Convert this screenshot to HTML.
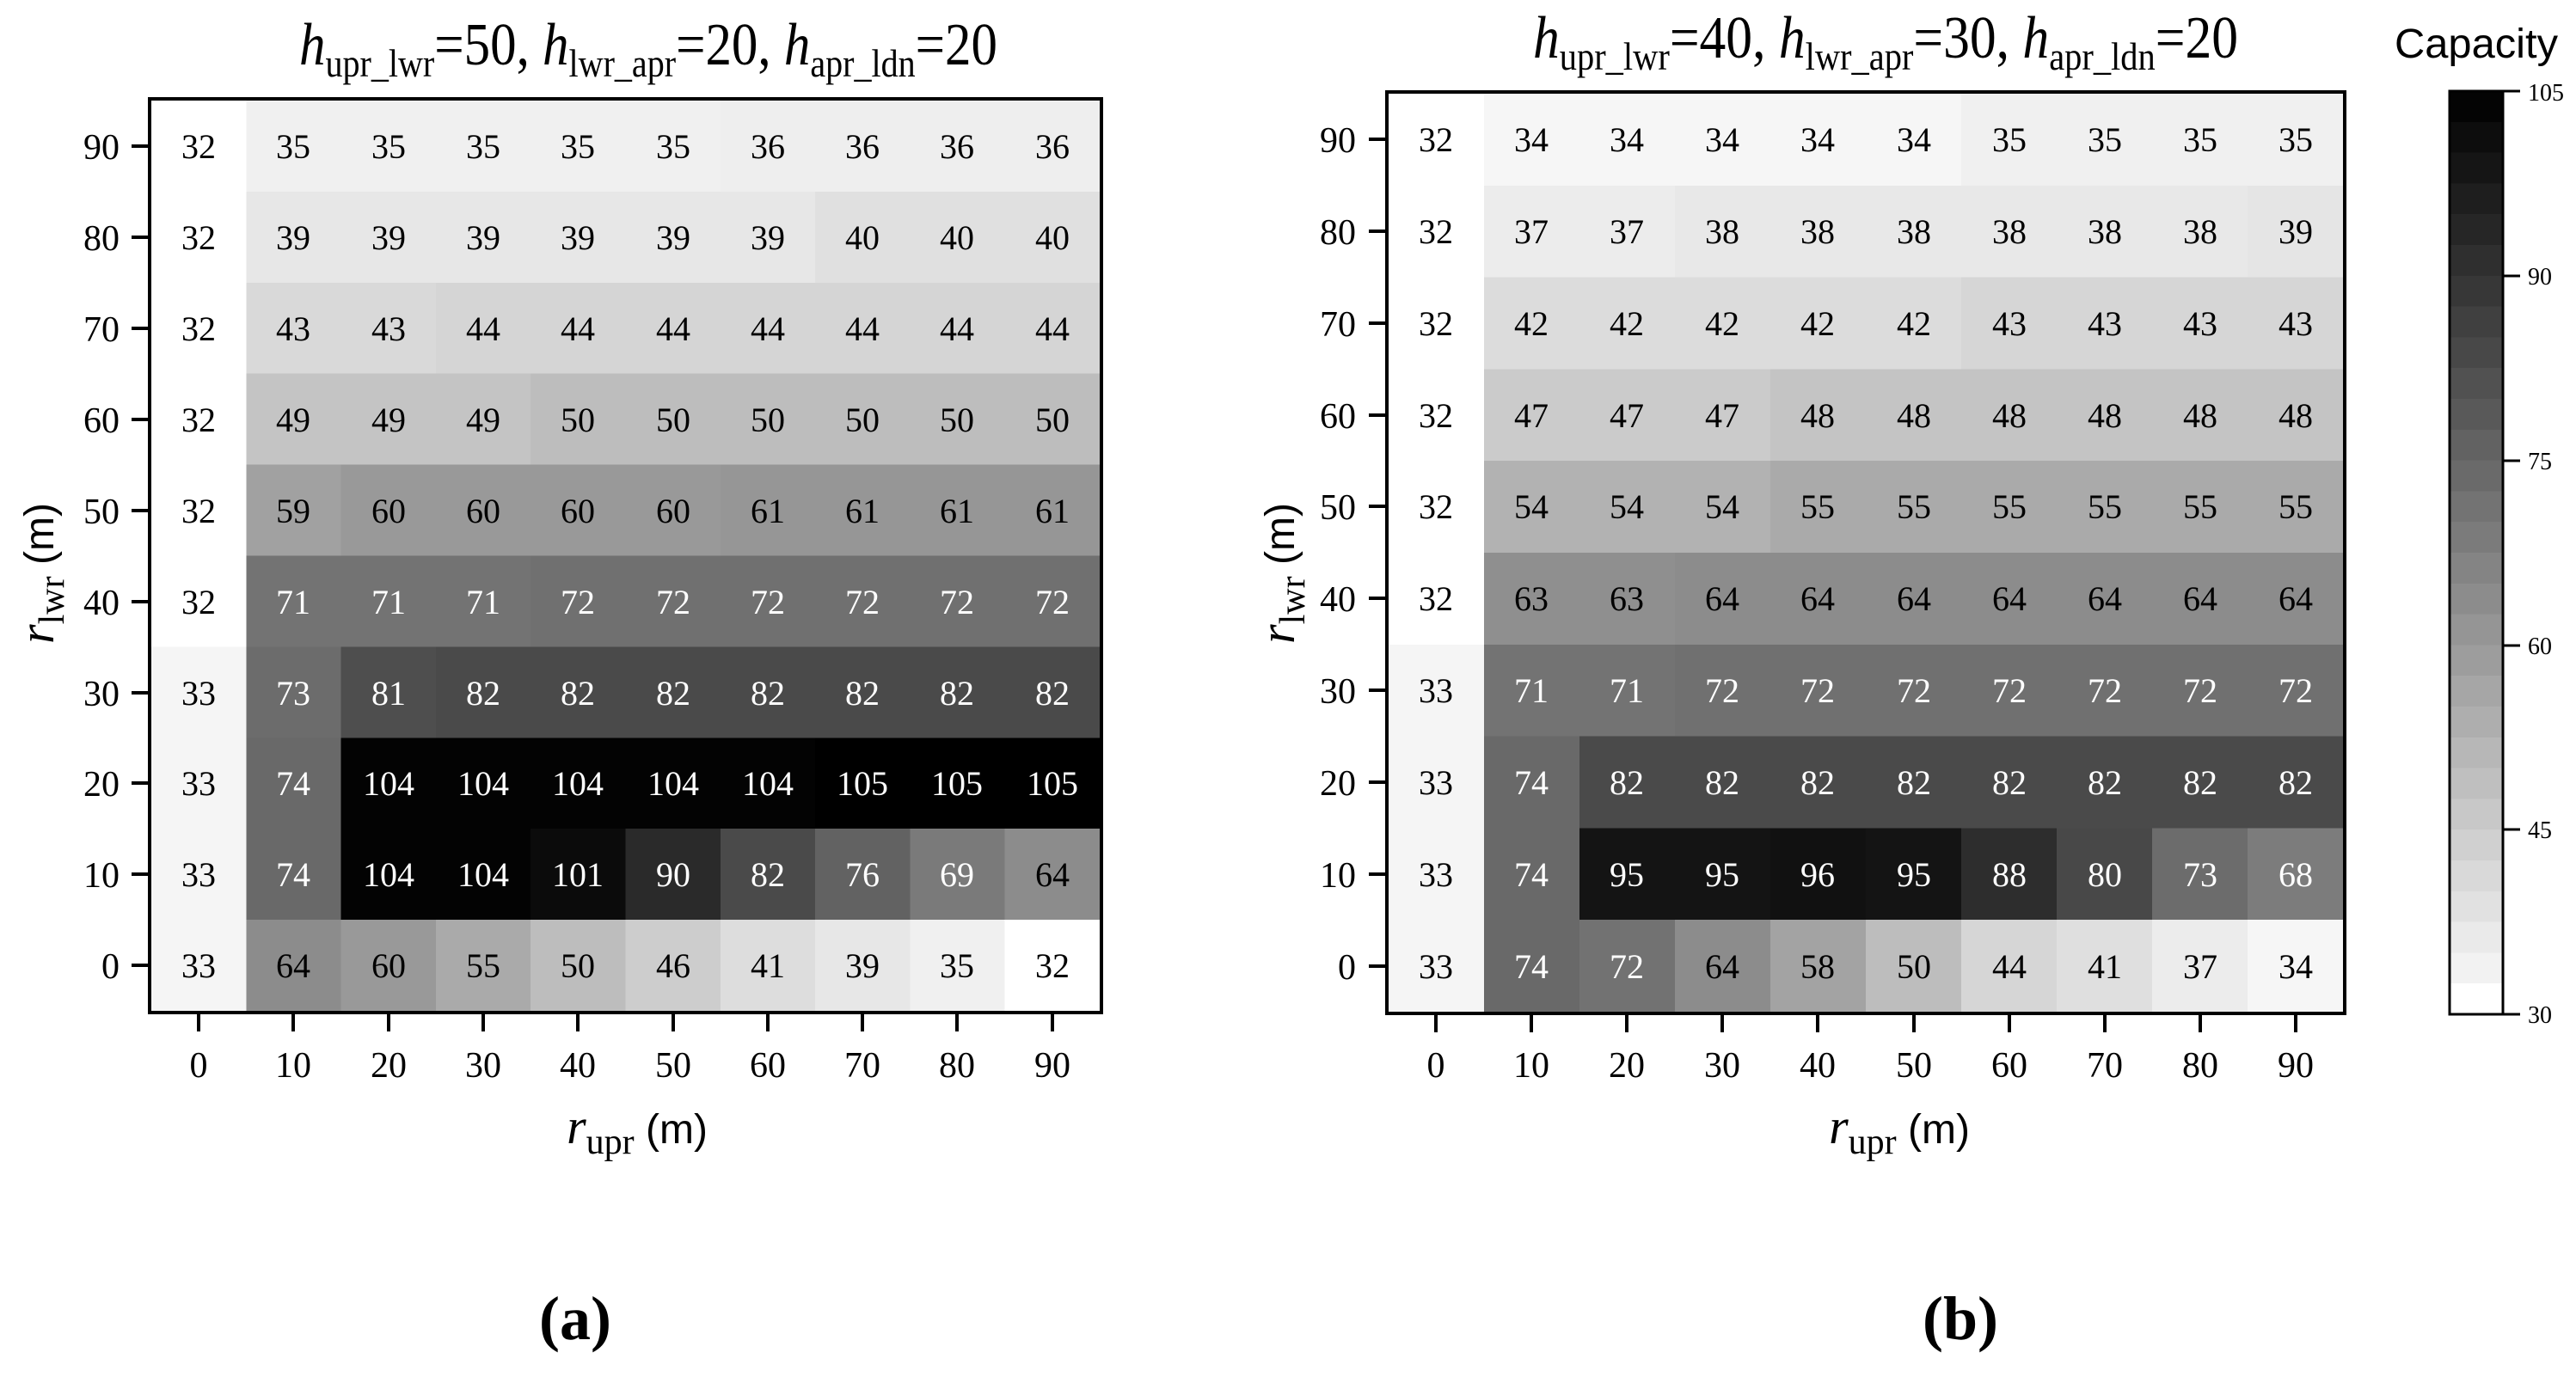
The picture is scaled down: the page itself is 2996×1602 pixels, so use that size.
<!DOCTYPE html>
<html><head><meta charset="utf-8"><style>
html,body{margin:0;padding:0;background:#fff;}
svg{display:block;}
.n{font-family:"Liberation Serif",serif;font-size:40px;text-anchor:middle;}
.t{font-family:"Liberation Serif",serif;font-size:42px;}
.w{fill:#fff;}
</style></head><body>
<svg width="2996" height="1602" viewBox="0 0 2996 1602" xmlns="http://www.w3.org/2000/svg">
<rect width="2996" height="1602" fill="#fff"/>

<!-- LEFT CELLS -->
<g transform="translate(176,117) scale(110.3,105.9)" shape-rendering="crispEdges">
<rect x="0" y="0" width="1.01" height="1.01" fill="#fff"/><rect x="1" y="0" width="5.01" height="1.01" fill="#f0f0f0"/><rect x="6" y="0" width="4" height="1.01" fill="#eeeeee"/>
<rect x="0" y="1" width="1.01" height="1.01" fill="#fff"/><rect x="1" y="1" width="6.01" height="1.01" fill="#e7e7e7"/><rect x="7" y="1" width="3" height="1.01" fill="#e0e0e0"/>
<rect x="0" y="2" width="1.01" height="1.01" fill="#fff"/><rect x="1" y="2" width="2.01" height="1.01" fill="#d9d9d9"/><rect x="3" y="2" width="7" height="1.01" fill="#d5d5d5"/>
<rect x="0" y="3" width="1.01" height="1.01" fill="#fff"/><rect x="1" y="3" width="3.01" height="1.01" fill="#c4c4c4"/><rect x="4" y="3" width="6" height="1.01" fill="#bdbdbd"/>
<rect x="0" y="4" width="1.01" height="1.01" fill="#fff"/><rect x="1" y="4" width="1.01" height="1.01" fill="#a1a1a1"/><rect x="2" y="4" width="4.01" height="1.01" fill="#999999"/><rect x="6" y="4" width="4" height="1.01" fill="#969696"/>
<rect x="0" y="5" width="1.01" height="1.01" fill="#fff"/><rect x="1" y="5" width="3.01" height="1.01" fill="#737373"/><rect x="4" y="5" width="6" height="1.01" fill="#707070"/>
<rect x="0" y="6" width="1.01" height="1.01" fill="#f5f5f5"/><rect x="1" y="6" width="1.01" height="1.01" fill="#6c6c6c"/><rect x="2" y="6" width="1.01" height="1.01" fill="#4e4e4e"/><rect x="3" y="6" width="7" height="1.01" fill="#4a4a4a"/>
<rect x="0" y="7" width="1.01" height="1.01" fill="#f5f5f5"/><rect x="1" y="7" width="1.01" height="1.01" fill="#696969"/><rect x="2" y="7" width="5.01" height="1.01" fill="#030303"/><rect x="7" y="7" width="3" height="1.01" fill="#000"/>
<rect x="0" y="8" width="1.01" height="1.01" fill="#f5f5f5"/><rect x="1" y="8" width="1.01" height="1.01" fill="#696969"/><rect x="2" y="8" width="2.01" height="1.01" fill="#030303"/><rect x="4" y="8" width="1.01" height="1.01" fill="#0b0b0b"/><rect x="5" y="8" width="1.01" height="1.01" fill="#2a2a2a"/><rect x="6" y="8" width="1.01" height="1.01" fill="#4a4a4a"/><rect x="7" y="8" width="1.01" height="1.01" fill="#626262"/><rect x="8" y="8" width="1.01" height="1.01" fill="#7a7a7a"/><rect x="9" y="8" width="1" height="1.01" fill="#8c8c8c"/>
<rect x="0" y="9" width="1.01" height="1" fill="#f5f5f5"/><rect x="1" y="9" width="1.01" height="1" fill="#8c8c8c"/><rect x="2" y="9" width="1.01" height="1" fill="#999999"/><rect x="3" y="9" width="1.01" height="1" fill="#aaaaaa"/><rect x="4" y="9" width="1.01" height="1" fill="#bdbdbd"/><rect x="5" y="9" width="1.01" height="1" fill="#cdcdcd"/><rect x="6" y="9" width="1.01" height="1" fill="#dddddd"/><rect x="7" y="9" width="1.01" height="1" fill="#e7e7e7"/><rect x="8" y="9" width="1.01" height="1" fill="#f0f0f0"/><rect x="9" y="9" width="1" height="1" fill="#fff"/>
</g>
<rect x="174" y="115" width="1107" height="1063" fill="none" stroke="#000" stroke-width="4"/>

<!-- LEFT NUMBERS -->
<g class="n">
<text y="184"><tspan x="231">32</tspan><tspan x="341">35</tspan><tspan x="452">35</tspan><tspan x="562">35</tspan><tspan x="672">35</tspan><tspan x="783">35</tspan><tspan x="893">36</tspan><tspan x="1003">36</tspan><tspan x="1113">36</tspan><tspan x="1224">36</tspan></text>
<text y="290"><tspan x="231">32</tspan><tspan x="341">39</tspan><tspan x="452">39</tspan><tspan x="562">39</tspan><tspan x="672">39</tspan><tspan x="783">39</tspan><tspan x="893">39</tspan><tspan x="1003">40</tspan><tspan x="1113">40</tspan><tspan x="1224">40</tspan></text>
<text y="396"><tspan x="231">32</tspan><tspan x="341">43</tspan><tspan x="452">43</tspan><tspan x="562">44</tspan><tspan x="672">44</tspan><tspan x="783">44</tspan><tspan x="893">44</tspan><tspan x="1003">44</tspan><tspan x="1113">44</tspan><tspan x="1224">44</tspan></text>
<text y="502"><tspan x="231">32</tspan><tspan x="341">49</tspan><tspan x="452">49</tspan><tspan x="562">49</tspan><tspan x="672">50</tspan><tspan x="783">50</tspan><tspan x="893">50</tspan><tspan x="1003">50</tspan><tspan x="1113">50</tspan><tspan x="1224">50</tspan></text>
<text y="608"><tspan x="231">32</tspan><tspan x="341">59</tspan><tspan x="452">60</tspan><tspan x="562">60</tspan><tspan x="672">60</tspan><tspan x="783">60</tspan><tspan x="893">61</tspan><tspan x="1003">61</tspan><tspan x="1113">61</tspan><tspan x="1224">61</tspan></text>
<text y="714"><tspan x="231">32</tspan><tspan class="w" x="341">71</tspan><tspan class="w" x="452">71</tspan><tspan class="w" x="562">71</tspan><tspan class="w" x="672">72</tspan><tspan class="w" x="783">72</tspan><tspan class="w" x="893">72</tspan><tspan class="w" x="1003">72</tspan><tspan class="w" x="1113">72</tspan><tspan class="w" x="1224">72</tspan></text>
<text y="820"><tspan x="231">33</tspan><tspan class="w" x="341">73</tspan><tspan class="w" x="452">81</tspan><tspan class="w" x="562">82</tspan><tspan class="w" x="672">82</tspan><tspan class="w" x="783">82</tspan><tspan class="w" x="893">82</tspan><tspan class="w" x="1003">82</tspan><tspan class="w" x="1113">82</tspan><tspan class="w" x="1224">82</tspan></text>
<text y="925"><tspan x="231">33</tspan><tspan class="w" x="341">74</tspan><tspan class="w" x="452">104</tspan><tspan class="w" x="562">104</tspan><tspan class="w" x="672">104</tspan><tspan class="w" x="783">104</tspan><tspan class="w" x="893">104</tspan><tspan class="w" x="1003">105</tspan><tspan class="w" x="1113">105</tspan><tspan class="w" x="1224">105</tspan></text>
<text y="1031"><tspan x="231">33</tspan><tspan class="w" x="341">74</tspan><tspan class="w" x="452">104</tspan><tspan class="w" x="562">104</tspan><tspan class="w" x="672">101</tspan><tspan class="w" x="783">90</tspan><tspan class="w" x="893">82</tspan><tspan class="w" x="1003">76</tspan><tspan class="w" x="1113">69</tspan><tspan x="1224">64</tspan></text>
<text y="1137"><tspan x="231">33</tspan><tspan x="341">64</tspan><tspan x="452">60</tspan><tspan x="562">55</tspan><tspan x="672">50</tspan><tspan x="783">46</tspan><tspan x="893">41</tspan><tspan x="1003">39</tspan><tspan x="1113">35</tspan><tspan x="1224">32</tspan></text>
</g>

<!-- LEFT TICKS -->
<g stroke="#000" stroke-width="4">
<path d="M153 170H174M153 276H174M153 382H174M153 488H174M153 594H174M153 700H174M153 806H174M153 911H174M153 1017H174M153 1123H174"/>
<path d="M231 1180V1200M341 1180V1200M452 1180V1200M562 1180V1200M672 1180V1200M783 1180V1200M893 1180V1200M1003 1180V1200M1113 1180V1200M1224 1180V1200"/>
</g>
<g class="t" text-anchor="end">
<text x="139" y="185">90</text><text x="139" y="291">80</text><text x="139" y="397">70</text><text x="139" y="503">60</text><text x="139" y="609">50</text><text x="139" y="715">40</text><text x="139" y="821">30</text><text x="139" y="926">20</text><text x="139" y="1032">10</text><text x="139" y="1138">0</text>
</g>
<g class="t" text-anchor="middle">
<text y="1253"><tspan x="231">0</tspan><tspan x="341">10</tspan><tspan x="452">20</tspan><tspan x="562">30</tspan><tspan x="672">40</tspan><tspan x="783">50</tspan><tspan x="893">60</tspan><tspan x="1003">70</tspan><tspan x="1113">80</tspan><tspan x="1224">90</tspan></text>
</g>

<!-- RIGHT CELLS -->
<g transform="translate(1615,109) scale(111,106.8)" shape-rendering="crispEdges">
<rect x="0" y="0" width="1.01" height="1.01" fill="#fff"/><rect x="1" y="0" width="5.01" height="1.01" fill="#f6f6f6"/><rect x="6" y="0" width="4" height="1.01" fill="#f0f0f0"/>
<rect x="0" y="1" width="1.01" height="1.01" fill="#fff"/><rect x="1" y="1" width="2.01" height="1.01" fill="#ececec"/><rect x="3" y="1" width="6.01" height="1.01" fill="#e8e8e8"/><rect x="9" y="1" width="1" height="1.01" fill="#e5e5e5"/>
<rect x="0" y="2" width="1.01" height="1.01" fill="#fff"/><rect x="1" y="2" width="5.01" height="1.01" fill="#dcdcdc"/><rect x="6" y="2" width="4" height="1.01" fill="#d6d6d6"/>
<rect x="0" y="3" width="1.01" height="1.01" fill="#fff"/><rect x="1" y="3" width="3.01" height="1.01" fill="#cbcbcb"/><rect x="4" y="3" width="6" height="1.01" fill="#c4c4c4"/>
<rect x="0" y="4" width="1.01" height="1.01" fill="#fff"/><rect x="1" y="4" width="3.01" height="1.01" fill="#b2b2b2"/><rect x="4" y="4" width="6" height="1.01" fill="#aaaaaa"/>
<rect x="0" y="5" width="1.01" height="1.01" fill="#fff"/><rect x="1" y="5" width="2.01" height="1.01" fill="#8f8f8f"/><rect x="3" y="5" width="7" height="1.01" fill="#8c8c8c"/>
<rect x="0" y="6" width="1.01" height="1.01" fill="#f5f5f5"/><rect x="1" y="6" width="2.01" height="1.01" fill="#737373"/><rect x="3" y="6" width="7" height="1.01" fill="#707070"/>
<rect x="0" y="7" width="1.01" height="1.01" fill="#f5f5f5"/><rect x="1" y="7" width="1.01" height="1.01" fill="#696969"/><rect x="2" y="7" width="8" height="1.01" fill="#4a4a4a"/>
<rect x="0" y="8" width="1.01" height="1.01" fill="#f5f5f5"/><rect x="1" y="8" width="1.01" height="1.01" fill="#696969"/><rect x="2" y="8" width="2.01" height="1.01" fill="#141414"/><rect x="4" y="8" width="1.01" height="1.01" fill="#111"/><rect x="5" y="8" width="1.01" height="1.01" fill="#141414"/><rect x="6" y="8" width="1.01" height="1.01" fill="#2d2d2d"/><rect x="7" y="8" width="1.01" height="1.01" fill="#484848"/><rect x="8" y="8" width="1.01" height="1.01" fill="#6c6c6c"/><rect x="9" y="8" width="1" height="1.01" fill="#7c7c7c"/>
<rect x="0" y="9" width="1.01" height="1" fill="#f5f5f5"/><rect x="1" y="9" width="1.01" height="1" fill="#696969"/><rect x="2" y="9" width="1.01" height="1" fill="#727272"/><rect x="3" y="9" width="1.01" height="1" fill="#8c8c8c"/><rect x="4" y="9" width="1.01" height="1" fill="#a3a3a3"/><rect x="5" y="9" width="1.01" height="1" fill="#bdbdbd"/><rect x="6" y="9" width="1.01" height="1" fill="#d6d6d6"/><rect x="7" y="9" width="1.01" height="1" fill="#dfdfdf"/><rect x="8" y="9" width="1.01" height="1" fill="#ececec"/><rect x="9" y="9" width="1" height="1" fill="#f6f6f6"/>
</g>
<rect x="1613" y="107" width="1114" height="1072" fill="none" stroke="#000" stroke-width="4"/>

<!-- RIGHT NUMBERS -->
<g class="n">
<text y="176"><tspan x="1670">32</tspan><tspan x="1781">34</tspan><tspan x="1892">34</tspan><tspan x="2003">34</tspan><tspan x="2114">34</tspan><tspan x="2226">34</tspan><tspan x="2337">35</tspan><tspan x="2448">35</tspan><tspan x="2559">35</tspan><tspan x="2670">35</tspan></text>
<text y="283"><tspan x="1670">32</tspan><tspan x="1781">37</tspan><tspan x="1892">37</tspan><tspan x="2003">38</tspan><tspan x="2114">38</tspan><tspan x="2226">38</tspan><tspan x="2337">38</tspan><tspan x="2448">38</tspan><tspan x="2559">38</tspan><tspan x="2670">39</tspan></text>
<text y="390"><tspan x="1670">32</tspan><tspan x="1781">42</tspan><tspan x="1892">42</tspan><tspan x="2003">42</tspan><tspan x="2114">42</tspan><tspan x="2226">42</tspan><tspan x="2337">43</tspan><tspan x="2448">43</tspan><tspan x="2559">43</tspan><tspan x="2670">43</tspan></text>
<text y="497"><tspan x="1670">32</tspan><tspan x="1781">47</tspan><tspan x="1892">47</tspan><tspan x="2003">47</tspan><tspan x="2114">48</tspan><tspan x="2226">48</tspan><tspan x="2337">48</tspan><tspan x="2448">48</tspan><tspan x="2559">48</tspan><tspan x="2670">48</tspan></text>
<text y="603"><tspan x="1670">32</tspan><tspan x="1781">54</tspan><tspan x="1892">54</tspan><tspan x="2003">54</tspan><tspan x="2114">55</tspan><tspan x="2226">55</tspan><tspan x="2337">55</tspan><tspan x="2448">55</tspan><tspan x="2559">55</tspan><tspan x="2670">55</tspan></text>
<text y="710"><tspan x="1670">32</tspan><tspan x="1781">63</tspan><tspan x="1892">63</tspan><tspan x="2003">64</tspan><tspan x="2114">64</tspan><tspan x="2226">64</tspan><tspan x="2337">64</tspan><tspan x="2448">64</tspan><tspan x="2559">64</tspan><tspan x="2670">64</tspan></text>
<text y="817"><tspan x="1670">33</tspan><tspan class="w" x="1781">71</tspan><tspan class="w" x="1892">71</tspan><tspan class="w" x="2003">72</tspan><tspan class="w" x="2114">72</tspan><tspan class="w" x="2226">72</tspan><tspan class="w" x="2337">72</tspan><tspan class="w" x="2448">72</tspan><tspan class="w" x="2559">72</tspan><tspan class="w" x="2670">72</tspan></text>
<text y="924"><tspan x="1670">33</tspan><tspan class="w" x="1781">74</tspan><tspan class="w" x="1892">82</tspan><tspan class="w" x="2003">82</tspan><tspan class="w" x="2114">82</tspan><tspan class="w" x="2226">82</tspan><tspan class="w" x="2337">82</tspan><tspan class="w" x="2448">82</tspan><tspan class="w" x="2559">82</tspan><tspan class="w" x="2670">82</tspan></text>
<text y="1031"><tspan x="1670">33</tspan><tspan class="w" x="1781">74</tspan><tspan class="w" x="1892">95</tspan><tspan class="w" x="2003">95</tspan><tspan class="w" x="2114">96</tspan><tspan class="w" x="2226">95</tspan><tspan class="w" x="2337">88</tspan><tspan class="w" x="2448">80</tspan><tspan class="w" x="2559">73</tspan><tspan class="w" x="2670">68</tspan></text>
<text y="1138"><tspan x="1670">33</tspan><tspan class="w" x="1781">74</tspan><tspan class="w" x="1892">72</tspan><tspan x="2003">64</tspan><tspan x="2114">58</tspan><tspan x="2226">50</tspan><tspan x="2337">44</tspan><tspan x="2448">41</tspan><tspan x="2559">37</tspan><tspan x="2670">34</tspan></text>
</g>

<!-- RIGHT TICKS -->
<g stroke="#000" stroke-width="4">
<path d="M1592 162H1613M1592 269H1613M1592 376H1613M1592 483H1613M1592 589H1613M1592 696H1613M1592 803H1613M1592 910H1613M1592 1017H1613M1592 1124H1613"/>
<path d="M1670 1181V1201M1781 1181V1201M1892 1181V1201M2003 1181V1201M2114 1181V1201M2226 1181V1201M2337 1181V1201M2448 1181V1201M2559 1181V1201M2670 1181V1201"/>
</g>
<g class="t" text-anchor="end">
<text x="1577" y="177">90</text><text x="1577" y="284">80</text><text x="1577" y="391">70</text><text x="1577" y="498">60</text><text x="1577" y="604">50</text><text x="1577" y="711">40</text><text x="1577" y="818">30</text><text x="1577" y="925">20</text><text x="1577" y="1032">10</text><text x="1577" y="1139">0</text>
</g>
<g class="t" text-anchor="middle">
<text y="1253"><tspan x="1670">0</tspan><tspan x="1781">10</tspan><tspan x="1892">20</tspan><tspan x="2003">30</tspan><tspan x="2114">40</tspan><tspan x="2226">50</tspan><tspan x="2337">60</tspan><tspan x="2448">70</tspan><tspan x="2559">80</tspan><tspan x="2670">90</tspan></text>
</g>

<!-- TITLES -->
<text x="348" y="75" font-family="Liberation Serif, serif" font-size="70" textLength="812" lengthAdjust="spacingAndGlyphs"><tspan font-style="italic">h</tspan><tspan font-size="46" dy="14">upr_lwr</tspan><tspan dy="-14">=50, </tspan><tspan font-style="italic">h</tspan><tspan font-size="46" dy="14">lwr_apr</tspan><tspan dy="-14">=20, </tspan><tspan font-style="italic">h</tspan><tspan font-size="46" dy="14">apr_ldn</tspan><tspan dy="-14">=20</tspan></text>
<text x="1783" y="67" font-family="Liberation Serif, serif" font-size="70" textLength="820" lengthAdjust="spacingAndGlyphs"><tspan font-style="italic">h</tspan><tspan font-size="46" dy="14">upr_lwr</tspan><tspan dy="-14">=40, </tspan><tspan font-style="italic">h</tspan><tspan font-size="46" dy="14">lwr_apr</tspan><tspan dy="-14">=30, </tspan><tspan font-style="italic">h</tspan><tspan font-size="46" dy="14">apr_ldn</tspan><tspan dy="-14">=20</tspan></text>

<!-- AXIS LABELS -->
<text x="741" y="1330" text-anchor="middle" font-family="Liberation Serif, serif" font-size="58"><tspan font-style="italic">r</tspan><tspan font-size="42" dy="12">upr</tspan><tspan dy="-12" font-family="Liberation Sans, sans-serif" font-size="48"> (m)</tspan></text>
<text x="2209" y="1330" text-anchor="middle" font-family="Liberation Serif, serif" font-size="58"><tspan font-style="italic">r</tspan><tspan font-size="42" dy="12">upr</tspan><tspan dy="-12" font-family="Liberation Sans, sans-serif" font-size="48"> (m)</tspan></text>
<text transform="translate(62,667) rotate(-90)" text-anchor="middle" font-family="Liberation Serif, serif" font-size="58"><tspan font-style="italic">r</tspan><tspan font-size="42" dy="12">lwr</tspan><tspan dy="-12" font-family="Liberation Sans, sans-serif" font-size="48"> (m)</tspan></text>
<text transform="translate(1505,667) rotate(-90)" text-anchor="middle" font-family="Liberation Serif, serif" font-size="58"><tspan font-style="italic">r</tspan><tspan font-size="42" dy="12">lwr</tspan><tspan dy="-12" font-family="Liberation Sans, sans-serif" font-size="48"> (m)</tspan></text>

<!-- COLORBAR -->
<text x="2785" y="67" font-family="Liberation Sans, sans-serif" font-size="48" textLength="190" lengthAdjust="spacingAndGlyphs">Capacity</text>
<g transform="translate(2849,106) scale(62,35.8)" shape-rendering="crispEdges">
<rect y="0" width="1" height="1.02" fill="#040404"/><rect y="1" width="1" height="1.02" fill="#0d0d0d"/><rect y="2" width="1" height="1.02" fill="#151515"/><rect y="3" width="1" height="1.02" fill="#1e1e1e"/><rect y="4" width="1" height="1.02" fill="#262626"/><rect y="5" width="1" height="1.02" fill="#2f2f2f"/><rect y="6" width="1" height="1.02" fill="#373737"/><rect y="7" width="1" height="1.02" fill="#404040"/><rect y="8" width="1" height="1.02" fill="#484848"/><rect y="9" width="1" height="1.02" fill="#515151"/><rect y="10" width="1" height="1.02" fill="#595959"/><rect y="11" width="1" height="1.02" fill="#626262"/><rect y="12" width="1" height="1.02" fill="#6a6a6a"/><rect y="13" width="1" height="1.02" fill="#737373"/><rect y="14" width="1" height="1.02" fill="#7b7b7b"/><rect y="15" width="1" height="1.02" fill="#848484"/><rect y="16" width="1" height="1.02" fill="#8c8c8c"/><rect y="17" width="1" height="1.02" fill="#959595"/><rect y="18" width="1" height="1.02" fill="#9d9d9d"/><rect y="19" width="1" height="1.02" fill="#a6a6a6"/><rect y="20" width="1" height="1.02" fill="#aeaeae"/><rect y="21" width="1" height="1.02" fill="#b7b7b7"/><rect y="22" width="1" height="1.02" fill="#bfbfbf"/><rect y="23" width="1" height="1.02" fill="#c8c8c8"/><rect y="24" width="1" height="1.02" fill="#d0d0d0"/><rect y="25" width="1" height="1.02" fill="#d9d9d9"/><rect y="26" width="1" height="1.02" fill="#e1e1e1"/><rect y="27" width="1" height="1.02" fill="#eaeaea"/><rect y="28" width="1" height="1.02" fill="#f2f2f2"/><rect y="29" width="1" height="1" fill="#fff"/>
</g>
<rect x="2849" y="106" width="62" height="1074" fill="none" stroke="#000" stroke-width="3"/>
<path d="M2911 106H2931M2911 321H2931M2911 536H2931M2911 751H2931M2911 965H2931M2911 1180H2931" stroke="#000" stroke-width="3"/>
<g font-family="Liberation Serif, serif" font-size="28">
<text x="2940" y="117">105</text><text x="2940" y="331">90</text><text x="2940" y="546">75</text><text x="2940" y="761">60</text><text x="2940" y="975">45</text><text x="2940" y="1190">30</text>
</g>

<!-- PANEL LABELS -->
<text x="669" y="1558" text-anchor="middle" font-family="Liberation Serif, serif" font-size="72" font-weight="bold">(a)</text>
<text x="2280" y="1558" text-anchor="middle" font-family="Liberation Serif, serif" font-size="72" font-weight="bold">(b)</text>
</svg>
</body></html>
